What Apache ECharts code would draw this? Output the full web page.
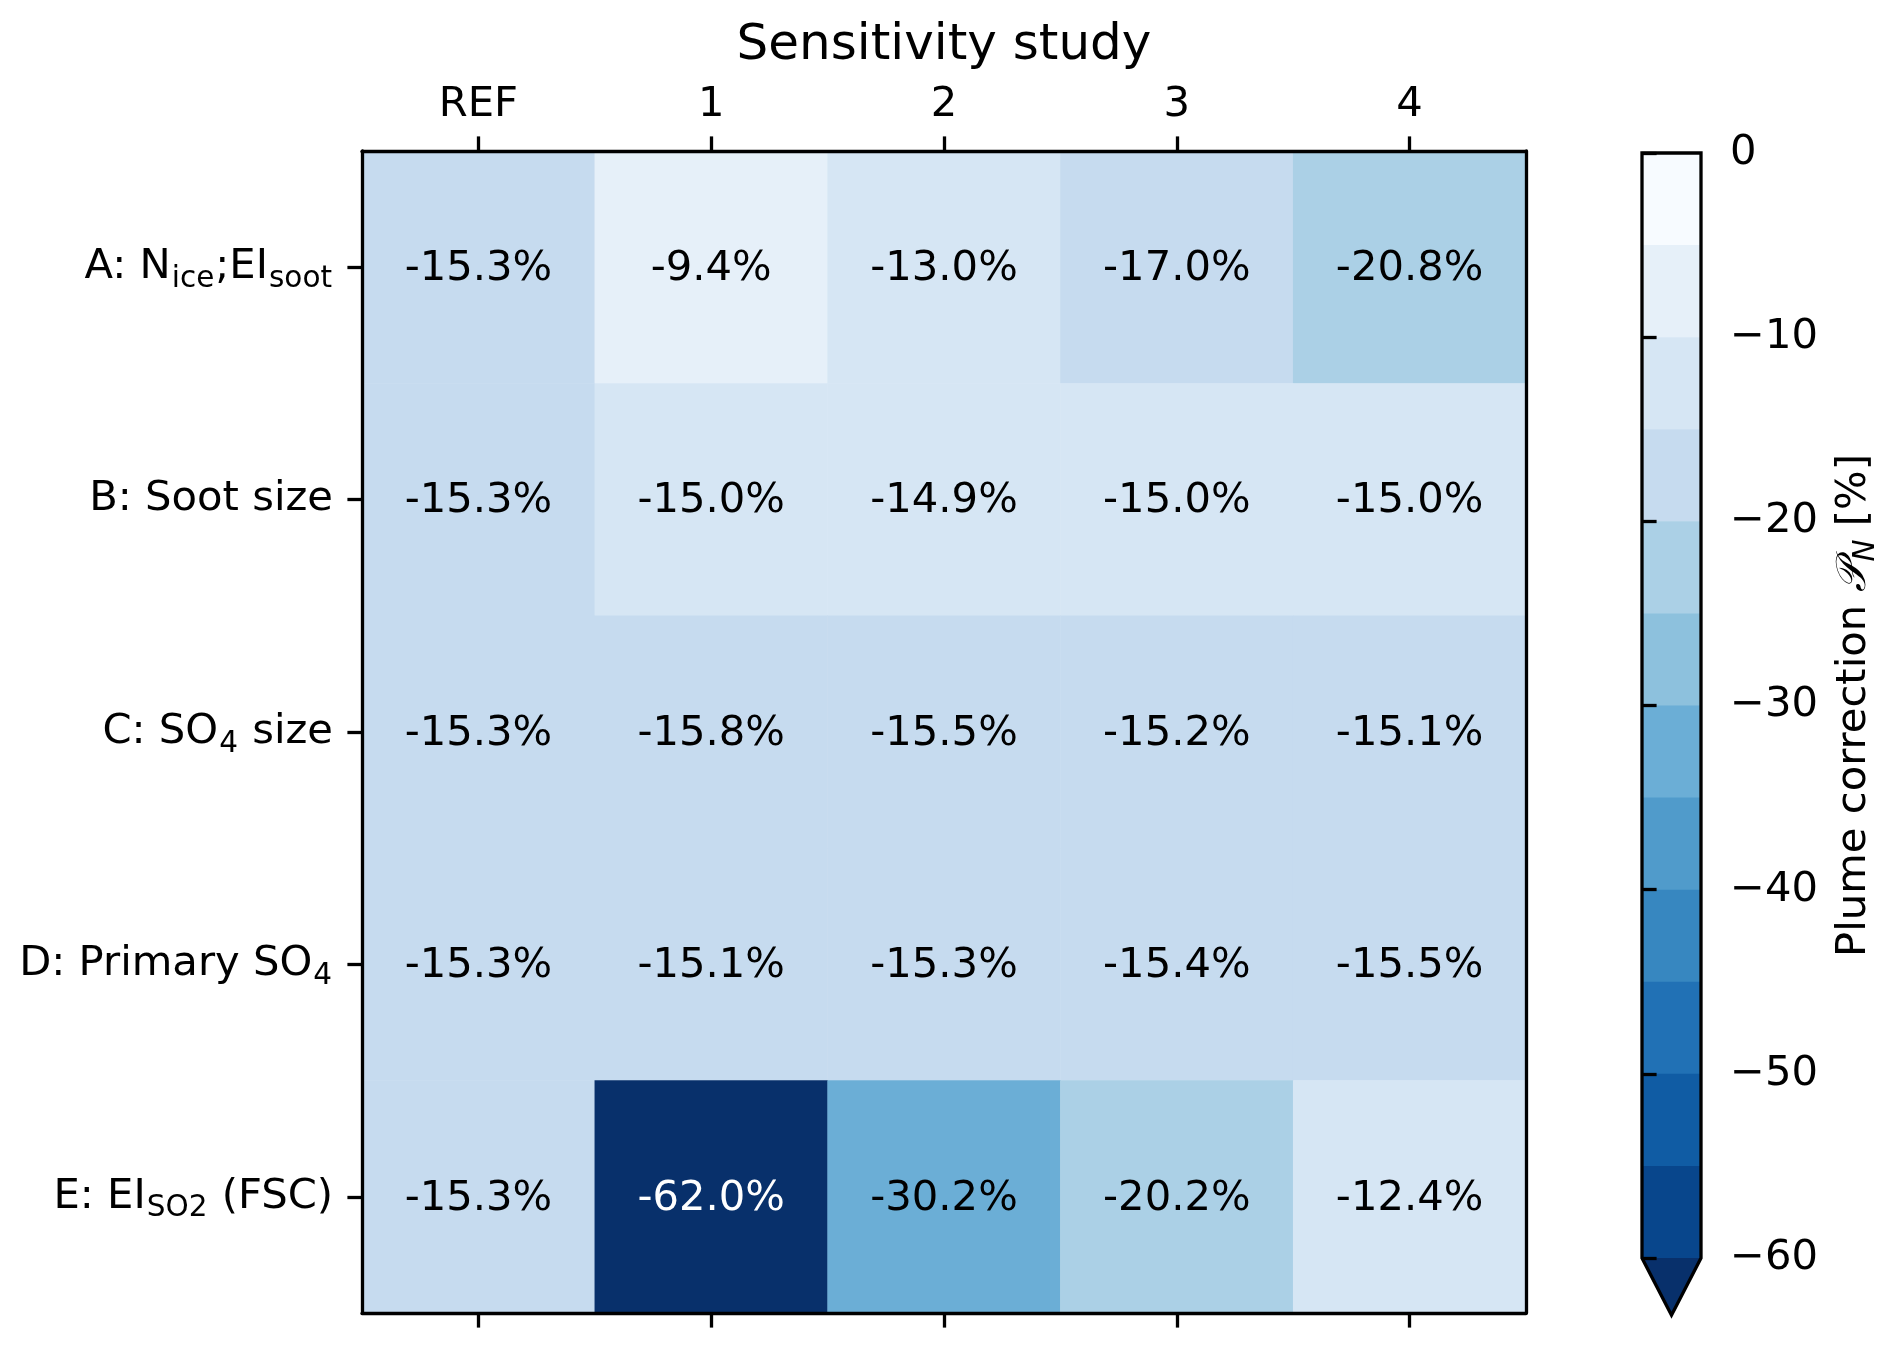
<!DOCTYPE html>
<html><head><meta charset="utf-8">
<script src="https://cdn.jsdelivr.net/npm/echarts@6/dist/echarts.min.js"></script>
<style>html,body{margin:0;padding:0;background:#fff}#c{width:1892px;height:1348px}</style>
</head><body><div id="c"></div>
<script>
// ---- data ----
const studies = ['REF', '1', '2', '3', '4'];
const experiments = ['A: N_{ice};EI_{soot}', 'B: Soot size', 'C: SO_{4} size', 'D: Primary SO_{4}', 'E: EI_{SO2} (FSC)'];
const rowA = [-15.3, -9.4, -13.0, -17.0, -20.8];
const rowB = [-15.3, -15.0, -14.9, -15.0, -15.0];
const rowC = [-15.3, -15.8, -15.5, -15.2, -15.1];
const rowD = [-15.3, -15.1, -15.3, -15.4, -15.5];
const rowE = [-15.3, -62.0, -30.2, -20.2, -12.4];
const levels = [0, -5, -10, -15, -20, -25, -30, -35, -40, -45, -50, -55, -60];
const levelColors = ['#f7fbff', '#e6f0f9', '#d6e6f4', '#c6dbef', '#abd0e6', '#8dc1dd',
  '#6baed6', '#509bcb', '#3787c0', '#2171b5', '#105ca4', '#08468c'];
const underColor = '#08306b';
const cbTicks = [0, -10, -20, -30, -40, -50, -60];
const xTitle = 'Sensitivity study';
const cbTitle = ['Plume correction ', '\u{1D4AB}', 'N', ' [%]'];

// ---- build ----
const rows = [rowA, rowB, rowC, rowD, rowE];
const FONT = 'DejaVu Sans';
const FS = 41.7;
const SFS = 29.5;
const LW = 3.3;
const data = [];
rows.forEach((row, r) => row.forEach((v, c) => {
  data.push({ value: [c, r, v], label: { color: v < -45 ? '#ffffff' : '#000000' } });
}));
const pieces = [];
for (let i = 0; i < levelColors.length; i++) {
  const p = { gte: levels[i + 1], color: levelColors[i] };
  if (i === 0) p.lte = levels[i]; else p.lt = levels[i];
  pieces.push(p);
}
pieces.push({ lt: levels[levels.length - 1], color: underColor });

function toRich(s) {
  const parts = [];
  const re = /_\{([^}]*)\}/g;
  let last = 0, m;
  while ((m = re.exec(s)) !== null) {
    if (m.index > last) parts.push('{n|' + s.slice(last, m.index) + '}');
    parts.push('{s|' + m[1] + '}');
    last = re.lastIndex;
  }
  if (last < s.length) parts.push('{n|' + s.slice(last) + '}');
  return parts.join('');
}
const cbData = levelColors.map((col, i) => [levels[i], levels[i + 1], i]);
const lineStyle = { color: '#000', width: LW };

const option = {
  animation: false,
  backgroundColor: '#fff',
  textStyle: { fontFamily: FONT, color: '#000' },
  grid: [
    { left: 362, top: 151, width: 1164, height: 1162 },
    { left: 1642, top: 153, width: 59, height: 1105 }
  ],
  visualMap: { type: 'piecewise', show: false, seriesIndex: 0, dimension: 2, pieces: pieces },
  xAxis: [
    { type: 'category', gridIndex: 0, data: studies, position: 'top', z: 5,
      axisLine: { show: true, lineStyle: lineStyle },
      axisTick: { show: true, alignWithLabel: true, length: 14.6, lineStyle: lineStyle },
      axisLabel: { fontSize: FS, margin: 25, color: '#000', fontFamily: FONT },
      splitLine: { show: false },
      name: xTitle, nameLocation: 'middle', nameGap: 80,
      nameTextStyle: { fontSize: 50, color: '#000', fontFamily: FONT } },
    { type: 'category', gridIndex: 0, data: studies, position: 'bottom', z: 5,
      axisLine: { show: true, lineStyle: lineStyle },
      axisTick: { show: true, alignWithLabel: true, length: 14.6, lineStyle: lineStyle },
      axisLabel: { show: false }, splitLine: { show: false } },
    { type: 'value', gridIndex: 1, min: 0, max: 1, show: false }
  ],
  yAxis: [
    { type: 'category', gridIndex: 0, data: experiments, inverse: true, position: 'left', z: 5,
      axisLine: { show: true, lineStyle: lineStyle },
      axisTick: { show: true, alignWithLabel: true, length: 14.6, lineStyle: lineStyle },
      axisLabel: { margin: 29, color: '#000', formatter: v => toRich(v),
        rich: {
          n: { fontSize: FS, fontFamily: FONT, color: '#000' },
          s: { fontSize: SFS, fontFamily: FONT, color: '#000', padding: [24, 1, 0, 1] }
        } },
      splitLine: { show: false } },
    { type: 'category', gridIndex: 0, data: experiments, inverse: true, position: 'right', z: 5,
      axisLine: { show: true, lineStyle: lineStyle },
      axisTick: { show: false }, axisLabel: { show: false }, splitLine: { show: false } },
    { type: 'value', gridIndex: 1, min: -60, max: 0, interval: 10, position: 'right', z: 5,
      axisLine: { show: false },
      axisTick: { show: true, length: 14.6, lineStyle: lineStyle },
      axisLabel: { fontSize: FS, margin: 29, color: '#000', fontFamily: FONT,
        formatter: v => String(v).replace('-', '\u2212') },
      splitLine: { show: false },
      name: '{n|' + cbTitle[0] + '}{i|' + cbTitle[1] + '}{s|' + cbTitle[2] + '}{n|' + cbTitle[3] + '}',
      nameLocation: 'middle', nameRotate: 90, nameGap: 126,
      nameTextStyle: { color: '#000', rich: {
        n: { fontSize: FS, fontFamily: FONT, color: '#000' },
        i: { fontSize: FS, fontFamily: FONT, color: '#000', fontStyle: 'italic' },
        s: { fontSize: SFS, fontFamily: FONT, color: '#000', fontStyle: 'italic', padding: [24, 0, 0, 0] }
      } } }
  ],
  series: [
    { type: 'heatmap', xAxisIndex: 0, yAxisIndex: 0, data: data,
      label: { show: true, fontSize: FS, fontFamily: FONT, offset: [0, 2],
        formatter: p => p.value[2].toFixed(1) + '%' },
      itemStyle: { borderWidth: 0 },
      emphasis: { disabled: true } },
    { type: 'custom', xAxisIndex: 2, yAxisIndex: 2, data: cbData, clip: false, z: 2,
      renderItem: (params, api) => {
        const hi = api.value(0), lo = api.value(1);
        const p1 = api.coord([0, hi]);
        const p2 = api.coord([1, lo]);
        return { type: 'rect', shape: { x: p1[0], y: p1[1], width: p2[0] - p1[0], height: p2[1] - p1[1] + 0.5 },
          style: { fill: levelColors[api.value(2)] } };
      } },
    { type: 'custom', xAxisIndex: 2, yAxisIndex: 2, data: [[levels[levels.length - 1], levels[0]]], clip: false, z: 4,
      renderItem: (params, api) => {
        const bottom = api.value(0), top = api.value(1);
        const a = api.coord([0, bottom]);
        const b = api.coord([1, bottom]);
        const t0 = api.coord([0, top]);
        const t1 = api.coord([1, top]);
        const w = b[0] - a[0];
        const tip = [(a[0] + b[0]) / 2, a[1] + w * 0.97];
        return { type: 'group', children: [
          { type: 'polygon', shape: { points: [a, b, tip] }, style: { fill: underColor } },
          { type: 'polygon', shape: { points: [t0, a, tip, b, t1] },
            style: { fill: null, stroke: '#000', lineWidth: LW, lineJoin: 'miter' } }
        ] };
      } }
  ]
};
const chart = echarts.init(document.getElementById('c'), null, { renderer: 'canvas' });
chart.setOption(option);
</script>
</body></html>
